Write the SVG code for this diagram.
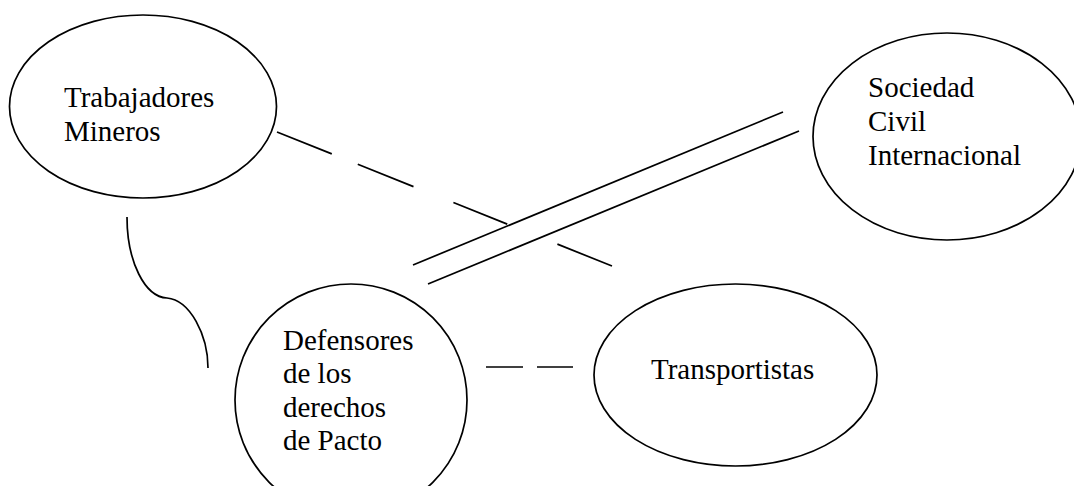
<svg xmlns="http://www.w3.org/2000/svg" width="1074" height="486" viewBox="0 0 1074 486">
<style>
.node ellipse{fill:#fff;stroke:#000;stroke-width:1.7}
.node text{font-family:"Liberation Serif","Times New Roman",serif;font-size:29px;fill:#000}
.conn{fill:none;stroke:#000;stroke-width:1.7}
</style>
<rect width="1074" height="486" fill="#fff"/>
<g id="connectors">
<path class="conn" d="M277,132 L612,266" stroke-dasharray="59 28 60 43 58 54 59"/>
<line class="conn" x1="413" y1="265" x2="783" y2="112"/>
<line class="conn" x1="428" y1="284" x2="799" y2="131"/>
<path class="conn" d="M127,217 C127,262 145,297 167,298 C190,300 208,335 208,368"/>
<line class="conn" x1="486" y1="367" x2="523" y2="367"/>
<line class="conn" x1="537" y1="367" x2="573" y2="367"/>
</g>
<g id="trabajadores" class="node">
<ellipse cx="143" cy="106.5" rx="133.5" ry="91.5"/>
<text x="64" y="107">Trabajadores</text>
<text x="64" y="141">Mineros</text>
</g>
<g id="sociedad" class="node">
<ellipse cx="947" cy="136.5" rx="134" ry="103.5"/>
<text x="868" y="97">Sociedad</text>
<text x="868" y="131">Civil</text>
<text x="868" y="165">Internacional</text>
</g>
<g id="defensores" class="node">
<ellipse cx="351" cy="400" rx="116" ry="116"/>
<text x="283" y="350">Defensores</text>
<text x="283" y="383">de los</text>
<text x="283" y="417">derechos</text>
<text x="283" y="450">de Pacto</text>
</g>
<g id="transportistas" class="node">
<ellipse cx="735.5" cy="375" rx="141.5" ry="91"/>
<text x="651" y="379">Transportistas</text>
</g>
</svg>
